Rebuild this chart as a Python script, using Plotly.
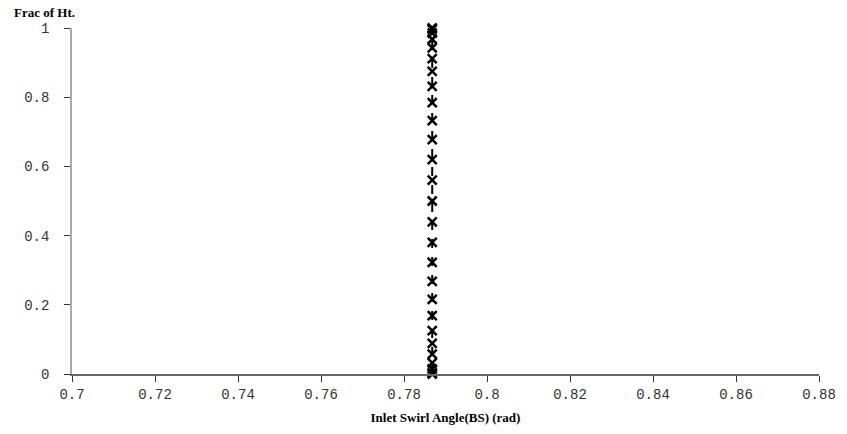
import plotly.graph_objects as go

# Inlet swirl angle (blade-to-blade) against fraction of span height
frac_ht = [0.0, 0.0036, 0.0146, 0.0325, 0.0573, 0.0885, 0.1257, 0.1684, 0.2160,
           0.2676, 0.3227, 0.3803, 0.4397, 0.5, 0.5603, 0.6197, 0.6773, 0.7324,
           0.7840, 0.8316, 0.8743, 0.9115, 0.9427, 0.9675, 0.9854, 0.9964, 1.0]
swirl_angle = [0.7868] * len(frac_ht)

x_ticks = [0.7, 0.72, 0.74, 0.76, 0.78, 0.8, 0.82, 0.84, 0.86, 0.88]
x_tick_text = ["0.7", "0.72", "0.74", "0.76", "0.78", "0.8", "0.82", "0.84", "0.86", "0.88"]
y_ticks = [0, 0.2, 0.4, 0.6, 0.8, 1]
y_tick_text = ["0", "0.2", "0.4", "0.6", "0.8", "1"]

mono = dict(family="Liberation Mono, Courier New, monospace", size=14, color="#333333")
serif_bold = dict(family="Liberation Serif, Times New Roman, serif", size=13, color="#000000")

fig = go.Figure()
fig.add_trace(go.Scatter(
    x=swirl_angle, y=frac_ht, mode="lines+markers",
    line=dict(color="black", width=2, dash="dash"),
    marker=dict(symbol="x-thin-open", size=9, color="black",
                line=dict(color="black", width=2.5)),
    showlegend=False,
    cliponaxis=False,
))

fig.update_layout(
    width=847, height=434,
    margin=dict(l=72, r=28, t=28, b=60),
    paper_bgcolor="white", plot_bgcolor="white",
    xaxis=dict(
        range=[0.7, 0.88], tickvals=x_ticks, ticktext=x_tick_text, automargin=False,
        showgrid=False, zeroline=False, showline=True, linecolor="#666666", linewidth=1.5,
        ticks="outside", ticklen=6, tickcolor="#333333", tickfont=mono,
        ticklabelstandoff=0,
        title=dict(text="<b>Inlet Swirl Angle(BS) (rad)</b>", font=serif_bold, standoff=11),
    ),
    yaxis=dict(
        range=[0, 1], tickvals=y_ticks, ticktext=y_tick_text, automargin=False,
        showgrid=False, zeroline=False, showline=True, linecolor="#aaaaaa", linewidth=1.5,
        ticks="outside", ticklen=6, tickcolor="#333333", tickfont=mono,
        ticklabelstandoff=12,
    ),
    annotations=[dict(
        text="<b>Frac of Ht.</b>", xref="paper", yref="paper", x=-0.0805, y=1.0,
        xanchor="left", yanchor="bottom", yshift=6, showarrow=False, font=serif_bold,
    )],
)

fig.write_html("out.html")
